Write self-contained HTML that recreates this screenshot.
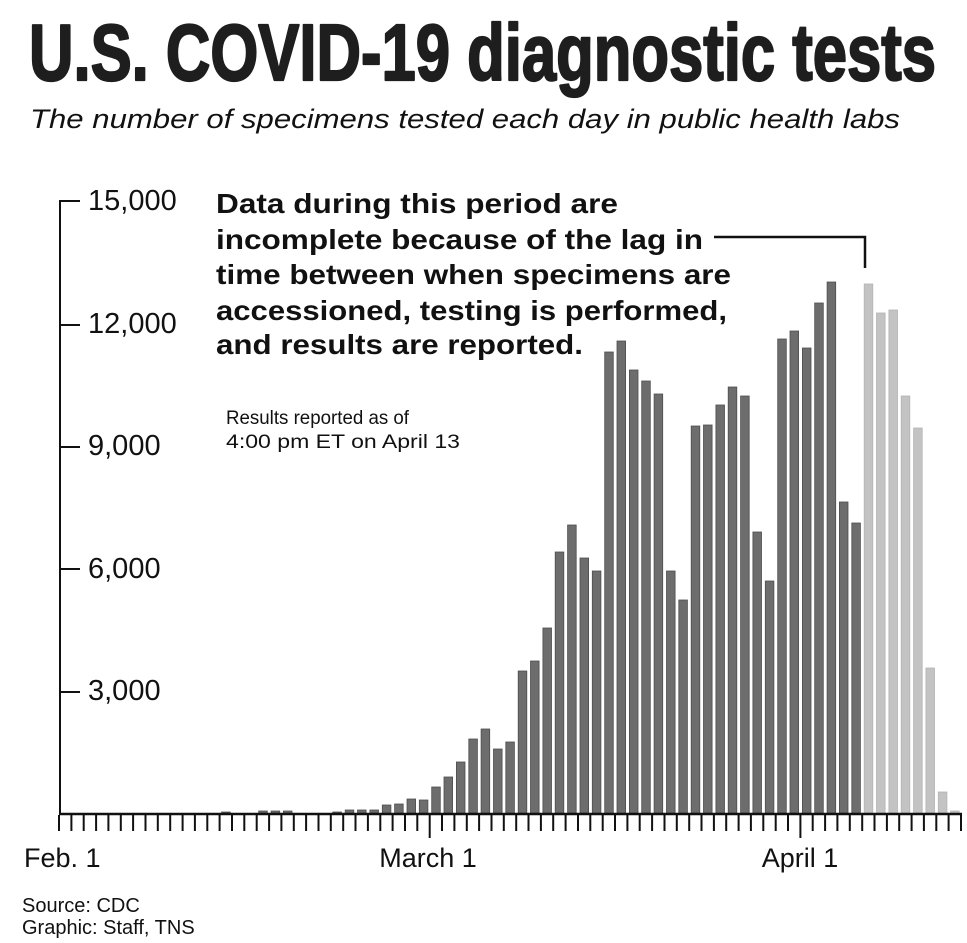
<!DOCTYPE html>
<html><head><meta charset="utf-8"><style>
html,body{margin:0;padding:0;background:#fff;}
svg{display:block;}
</style></head><body>
<svg width="967" height="943" viewBox="0 0 967 943" xmlns="http://www.w3.org/2000/svg">
<rect width="967" height="943" fill="#fff"/>
<text x="29" y="80" font-family="'Liberation Sans Narrow','Liberation Sans',sans-serif" font-weight="bold" font-size="80" fill="#1e1e1e" stroke="#1e1e1e" stroke-width="2.2" stroke-linejoin="round" textLength="907" lengthAdjust="spacingAndGlyphs">U.S. COVID-19 diagnostic tests</text>
<text x="30" y="128" font-family="'Liberation Sans',sans-serif" font-style="italic" font-size="27" fill="#111" textLength="870" lengthAdjust="spacingAndGlyphs">The number of specimens tested each day in public health labs</text>

<g font-family="'Liberation Sans',sans-serif" font-size="29" fill="#111">
<text x="88" y="210">15,000</text>
<text x="88" y="333">12,000</text>
<text x="88" y="455">9,000</text>
<text x="88" y="578">6,000</text>
<text x="88" y="700">3,000</text>
</g>
<g stroke="#111" stroke-width="2">
<line x1="60" y1="201" x2="60" y2="814"/>
<line x1="59" y1="201" x2="80" y2="201"/>
<line x1="59" y1="325" x2="80" y2="325"/>
<line x1="59" y1="447" x2="80" y2="447"/>
<line x1="59" y1="569" x2="80" y2="569"/>
<line x1="59" y1="692" x2="80" y2="692"/>
</g>

<g font-family="'Liberation Sans Narrow','Liberation Sans',sans-serif" font-weight="bold" font-size="28" fill="#111">
<text x="216" y="213" textLength="402" lengthAdjust="spacingAndGlyphs">Data during this period are</text>
<text x="216" y="249" textLength="487" lengthAdjust="spacingAndGlyphs">incomplete because of the lag in</text>
<text x="216" y="284" textLength="515" lengthAdjust="spacingAndGlyphs">time between when specimens are</text>
<text x="216" y="320" textLength="511" lengthAdjust="spacingAndGlyphs">accessioned, testing is performed,</text>
<text x="216" y="354" textLength="367" lengthAdjust="spacingAndGlyphs">and results are reported.</text>
</g>
<polyline points="714,237 865,237 865,268" fill="none" stroke="#111" stroke-width="2.5"/>

<g font-family="'Liberation Sans',sans-serif" font-size="19" fill="#111">
<text x="226" y="424" textLength="183" lengthAdjust="spacingAndGlyphs">Results reported as of</text>
<text x="226" y="448" textLength="234" lengthAdjust="spacingAndGlyphs">4:00 pm ET on April 13</text>
</g>

<g id="bars"></g>
<g id="ticks" stroke="#111" stroke-width="2"></g>
<line x1="59" y1="814" x2="962" y2="814" stroke="#111" stroke-width="2.5"/>

<g font-family="'Liberation Sans',sans-serif" font-size="27" fill="#111">
<text x="24" y="867">Feb. 1</text>
<text x="428" y="867" text-anchor="middle">March 1</text>
<text x="800" y="867" text-anchor="middle">April 1</text>
</g>
<g font-family="'Liberation Sans',sans-serif" font-size="20" fill="#111">
<text x="22" y="912">Source: CDC</text>
<text x="22" y="934">Graphic: Staff, TNS</text>
</g>
</svg>
<script>
(function(){
var ns="http://www.w3.org/2000/svg";
var tops={13:812,16:811,17:811,18:811,22:812,23:810,24:810,25:810,26:805,27:804,28:799,29:800,30:787,31:777,32:762,33:739,34:729,35:749,36:742,37:671,38:661,39:628,40:552,41:525,42:558,43:571,44:352,45:341,46:370,47:381,48:394,49:571,50:600,51:426,52:425,53:405,54:387,55:396,56:532,57:581,58:339,59:331,60:348,61:303,62:282,63:502,64:523,65:284,66:313,67:310,68:396,69:428,70:668,71:792,72:811};
var step=(961-59)/73;
var g=document.getElementById("bars");
for(var k in tops){var i=+k;var y=tops[k];
 var r=document.createElementNS(ns,"rect");
 r.setAttribute("x",(59+i*step+2).toFixed(1));
 r.setAttribute("y",y);
 r.setAttribute("width","8.6");
 r.setAttribute("height",813-y);
 var light=i>=65;
 r.setAttribute("fill",light?"#c3c3c3":"#6d6d6d");
 r.setAttribute("stroke",light?"#b3b3b3":"#4e4e4e");
 r.setAttribute("stroke-width","0.8");
 g.appendChild(r);}
var t=document.getElementById("ticks");
for(var i=0;i<=73;i++){
 var x=(59+i*step).toFixed(1);
 var l=document.createElementNS(ns,"line");
 l.setAttribute("x1",x);l.setAttribute("x2",x);
 l.setAttribute("y1","815");
 l.setAttribute("y2",(i==30||i==60)?"838":"831");
 t.appendChild(l);}
})();
</script>
</body></html>
